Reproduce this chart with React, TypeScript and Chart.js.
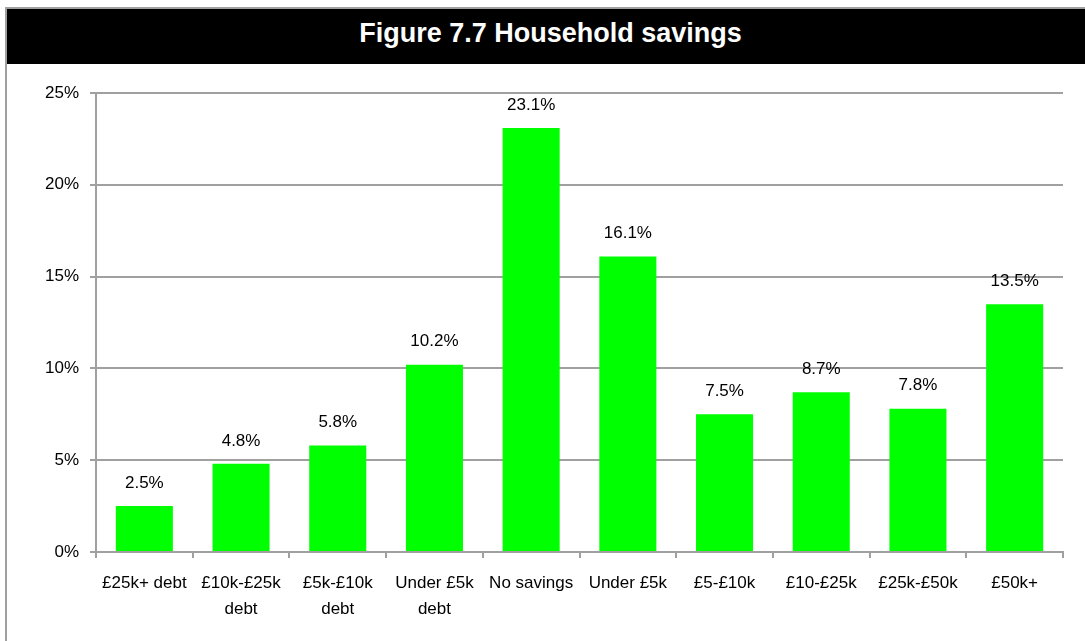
import React, { useEffect, useRef } from "react";
import { Chart, registerables } from "chart.js";

Chart.register(...registerables);

const categories: (string | string[])[] = [
  "£25k+ debt",
  ["£10k-£25k", "debt"],
  ["£5k-£10k", "debt"],
  ["Under £5k", "debt"],
  "No savings",
  "Under £5k",
  "£5-£10k",
  "£10-£25k",
  "£25k-£50k",
  "£50k+",
];
const values: number[] = [2.5, 4.8, 5.8, 10.2, 23.1, 16.1, 7.5, 8.7, 7.8, 13.5];
const yTicks: number[] = [0, 5, 10, 15, 20, 25];

const FONT = "'Liberation Sans', Arial, Helvetica, sans-serif";
const GRAY = "#a0a0a0";

const valueLabels = {
  id: "valueLabels",
  afterDatasetsDraw(chart: any) {
    const ctx = chart.ctx;
    const meta = chart.getDatasetMeta(0);
    ctx.save();
    ctx.font = `17px ${FONT}`;
    ctx.fillStyle = "#000";
    ctx.textAlign = "center";
    ctx.textBaseline = "middle";
    meta.data.forEach((bar: any, i: number) => {
      ctx.fillText(values[i].toFixed(1) + "%", bar.x, bar.y - 23);
    });
    ctx.restore();
  },
};

export default function App() {
  const ref = useRef<HTMLCanvasElement>(null);
  useEffect(() => {
    if (!ref.current) return;
    const chart = new Chart(ref.current, {
      type: "bar",
      data: {
        labels: categories,
        datasets: [
          {
            data: values,
            backgroundColor: "#00ff00",
            borderWidth: 0,
            barPercentage: 0.59,
            categoryPercentage: 1,
          },
        ],
      },
      options: {
        responsive: false,
        animation: false,
        layout: { padding: { left: 0, right: 22, top: 27, bottom: 0 } },
        plugins: {
          legend: { display: false },
          tooltip: { enabled: false },
          title: { display: false },
        },
        scales: {
          x: {
            afterFit(scale: any) {
              scale.height = 89;
            },
            grid: {
              drawOnChartArea: false,
              drawTicks: true,
              tickLength: 6,
              color: GRAY,
              lineWidth: 2,
            },
            border: { display: true, color: GRAY, width: 2 },
            ticks: {
              color: "#000",
              padding: 12,
              maxRotation: 0,
              autoSkip: false,
              font: { family: FONT, size: 17, lineHeight: 1.53 },
            },
          },
          y: {
            min: 0,
            max: 25,
            afterFit(scale: any) {
              scale.width = 96;
            },
            afterBuildTicks(scale: any) {
              scale.ticks = yTicks.map((v) => ({ value: v }));
            },
            grid: {
              color: GRAY,
              lineWidth: 2,
              tickLength: 6,
              drawTicks: true,
            },
            border: { display: true, color: GRAY, width: 2 },
            ticks: {
              color: "#000",
              padding: 11,
              callback: (v: any) => v + "%",
              font: { family: FONT, size: 17 },
            },
          },
        },
      },
      plugins: [valueLabels],
    });
    return () => chart.destroy();
  }, []);

  return (
    <div
      style={{
        position: "fixed",
        left: 0,
        top: 0,
        width: 1085,
        height: 641,
        overflow: "hidden",
        background: "#fff",
      }}
    >
      <div
        style={{
          position: "absolute",
          left: 5,
          top: 7,
          width: 1087,
          height: 700,
          border: `2px solid ${GRAY}`,
        }}
      >
        <div
          style={{
            height: 55,
            background: "#000",
            color: "#fff",
            fontFamily: FONT,
            fontWeight: "bold",
            fontSize: 27,
            display: "flex",
            alignItems: "center",
            justifyContent: "center",
            paddingBottom: 7,
            boxSizing: "border-box",
          }}
        >
          Figure 7.7 Household savings
        </div>
      </div>
      <canvas
        ref={ref}
        width={1085}
        height={575}
        style={{ position: "absolute", left: 0, top: 66, width: 1085, height: 575 }}
      />
    </div>
  );
}
